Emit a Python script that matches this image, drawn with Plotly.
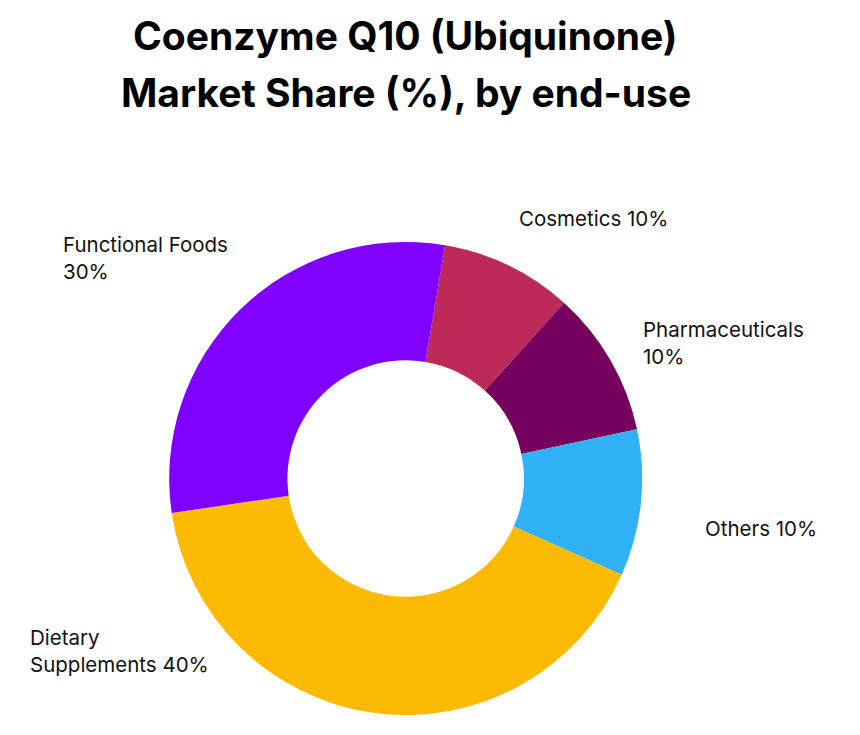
import plotly.graph_objects as go

segments = ["Cosmetics", "Pharmaceuticals", "Others", "Dietary Supplements", "Functional Foods"]
shares = [9, 10, 10, 41, 30]
label_texts = ["Cosmetics 10%", "Pharmaceuticals<br>10%", "Others 10%",
               "Dietary<br>Supplements 40%", "Functional Foods<br>30%"]
colors = ["#BE2A58", "#76005E", "#31B1F5", "#FDBA03", "#8000FF"]

W, H = 860, 735
OFF = 8  # page body margin shifts the figure

# label anchor points in pixels on the page (left edge, vertical centre)
label_pos = [(517, 219), (641, 343), (703, 528), (28, 651), (61, 258)]


def px_x(x):
    return (x - OFF) / W


def px_y(y):
    return 1 - (y - OFF) / H


fig = go.Figure(go.Pie(
    labels=segments,
    values=shares,
    hole=0.5,
    sort=False,
    direction="clockwise",
    rotation=9.6,
    marker=dict(colors=colors, line=dict(width=0)),
    textinfo="none",
    showlegend=False,
    domain=dict(x=[px_x(169.2), px_x(642.2)], y=[px_y(715), px_y(242)]),
))

# outside labels
for txt, (lx, ly) in zip(label_texts, label_pos):
    fig.add_annotation(
        text=txt, x=px_x(lx), y=px_y(ly), xref="paper", yref="paper",
        xanchor="left", yanchor="middle", align="left", showarrow=False,
        font=dict(family="Inter", size=20.5, color="#111111"),
    )

# two-line title
for txt, ty in [("Coenzyme Q10 (Ubiquinone)", 36), ("Market Share (%), by end-use", 92)]:
    fig.add_annotation(
        text=f"<b>{txt}</b>", x=px_x(405.5), y=px_y(ty), xref="paper", yref="paper",
        xanchor="center", yanchor="middle", showarrow=False,
        font=dict(family="Inter", size=39, color="#000000"),
    )

fig.update_layout(
    width=W, height=H,
    margin=dict(l=0, r=0, t=0, b=0),
    paper_bgcolor="white",
    plot_bgcolor="white",
)

fig.write_html("out.html")
